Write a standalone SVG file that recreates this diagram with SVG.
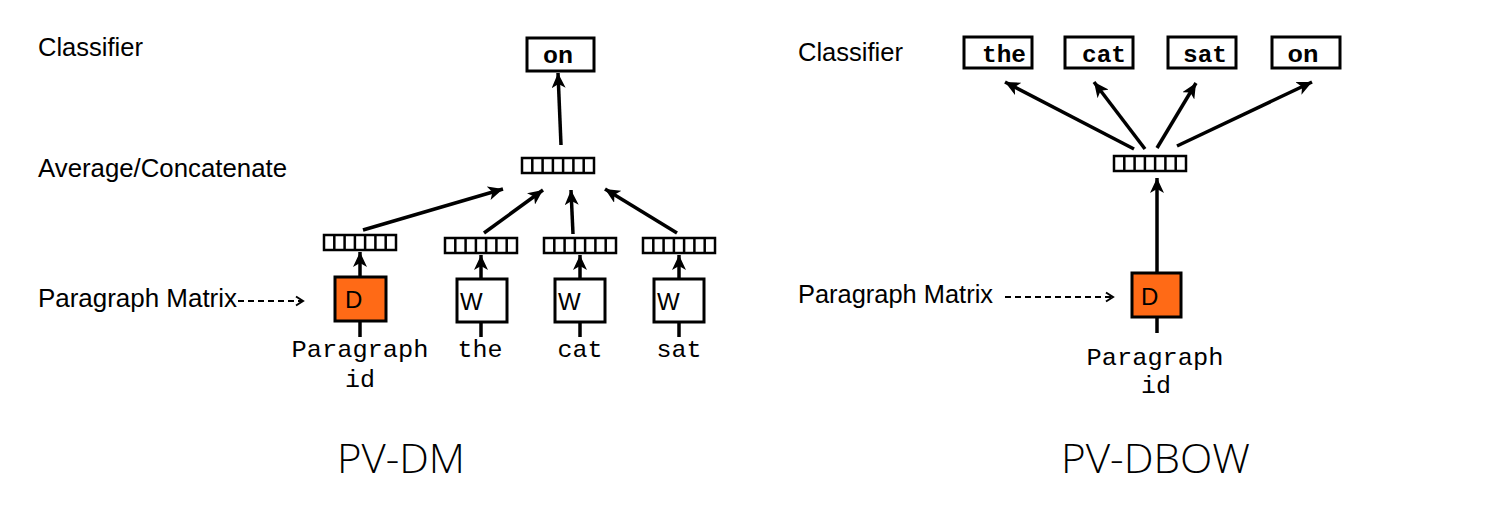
<svg xmlns="http://www.w3.org/2000/svg" width="1500" height="529" viewBox="0 0 1500 529">
<defs>
<marker id="ah" markerUnits="userSpaceOnUse" markerWidth="16" markerHeight="14" viewBox="0 0 16 14" refX="15" refY="7" orient="auto">
<path d="M0,0 L15,7 L0,14 L4,7 z" fill="#000"/>
</marker>
<marker id="dh" markerUnits="userSpaceOnUse" markerWidth="12" markerHeight="12" viewBox="0 0 12 12" refX="10" refY="6" orient="auto">
<path d="M3,1.5 L10,6 L3,10.5" fill="none" stroke="#000" stroke-width="2"/>
</marker>
<g id="vec">
<rect x="0" y="0" width="72" height="15" fill="#fff" stroke="#000" stroke-width="2.5"/>
<path d="M10.3,0V15M20.6,0V15M30.9,0V15M41.1,0V15M51.4,0V15M61.7,0V15" stroke="#000" stroke-width="2.5"/>
</g>
</defs>
<style>
.lbl{font-family:"Liberation Sans",Arial,sans-serif;font-size:25px;fill:#000}
.mono{font-family:"Courier New","Liberation Mono",monospace;font-size:24px;fill:#000}
.bmono{font-family:"Courier New","Liberation Mono",monospace;font-size:23px;font-weight:bold;fill:#000}
.box{fill:#fff;stroke:#000;stroke-width:3}
.dbox{fill:#FF6A16;stroke:#000;stroke-width:3}
.in{font-family:"Liberation Sans",Arial,sans-serif;font-size:24px;fill:#000}
.title{font-family:"Open Sans","Noto Sans",sans-serif;font-weight:300;font-size:41px;fill:#000}
.arr{stroke:#000;stroke-width:3.5;fill:none;marker-end:url(#ah)}
.stub{stroke:#000;stroke-width:3.5;fill:none}
.dash{stroke:#000;stroke-width:2;fill:none;stroke-dasharray:6,4;marker-end:url(#dh)}
</style>
<rect width="1500" height="529" fill="#fff"/>

<!-- Left labels -->
<g id="labels-left">
<text class="lbl" x="38" y="56" textLength="105" lengthAdjust="spacingAndGlyphs">Classifier</text>
<text class="lbl" x="38" y="177" textLength="249" lengthAdjust="spacingAndGlyphs">Average/Concatenate</text>
<text class="lbl" x="38" y="307" textLength="199" lengthAdjust="spacingAndGlyphs">Paragraph Matrix</text>
<text class="title" x="337" y="473" textLength="128" lengthAdjust="spacingAndGlyphs">PV-DM</text>
</g>

<g id="connectors-left">
<line class="dash" x1="238" y1="301" x2="303" y2="301"/>
<line class="arr" x1="561" y1="145" x2="558" y2="73"/>
<line class="arr" x1="363" y1="230" x2="503" y2="189"/>
<line class="arr" x1="484" y1="233" x2="543" y2="190"/>
<line class="arr" x1="573" y1="234" x2="571" y2="190"/>
<line class="arr" x1="677" y1="233" x2="605" y2="189"/>
<line class="arr" x1="360" y1="277" x2="360" y2="252"/>
<line class="arr" x1="481" y1="279" x2="481" y2="255"/>
<line class="arr" x1="580" y1="279" x2="580" y2="255"/>
<line class="arr" x1="679" y1="279" x2="679" y2="255"/>
<line class="stub" x1="360" y1="321" x2="360" y2="337"/>
<line class="stub" x1="481" y1="322" x2="481" y2="337"/>
<line class="stub" x1="580" y1="322" x2="580" y2="337"/>
<line class="stub" x1="679" y1="322" x2="679" y2="337"/>
</g>

<g id="dm-on">
<rect class="box" x="527" y="38" width="67" height="33"/>
<text class="bmono" x="558" y="63" text-anchor="middle" textLength="30" lengthAdjust="spacingAndGlyphs">on</text>
</g>
<g id="dm-avg"><use href="#vec" x="522" y="158"/></g>
<g id="dm-vec-d"><use href="#vec" x="324" y="235"/></g>
<g id="dm-vec-the"><use href="#vec" x="445" y="238"/></g>
<g id="dm-vec-cat"><use href="#vec" x="544" y="238"/></g>
<g id="dm-vec-sat"><use href="#vec" x="643" y="238"/></g>
<g id="dm-D">
<rect class="dbox" x="335" y="277" width="51" height="44"/>
<text class="in" x="345" y="308">D</text>
</g>
<g id="dm-W1">
<rect class="box" x="457" y="279" width="50" height="43"/>
<text class="in" x="460" y="310">W</text>
</g>
<g id="dm-W2">
<rect class="box" x="555" y="279" width="50" height="43"/>
<text class="in" x="558" y="310">W</text>
</g>
<g id="dm-W3">
<rect class="box" x="654" y="279" width="50" height="43"/>
<text class="in" x="657" y="310">W</text>
</g>
<g id="dm-words">
<text class="mono" x="360" y="357" text-anchor="middle" textLength="137" lengthAdjust="spacingAndGlyphs">Paragraph</text>
<text class="mono" x="360" y="387" text-anchor="middle" textLength="30" lengthAdjust="spacingAndGlyphs">id</text>
<text class="mono" x="480" y="357" text-anchor="middle" textLength="45" lengthAdjust="spacingAndGlyphs">the</text>
<text class="mono" x="580" y="357" text-anchor="middle" textLength="45" lengthAdjust="spacingAndGlyphs">cat</text>
<text class="mono" x="679" y="357" text-anchor="middle" textLength="45" lengthAdjust="spacingAndGlyphs">sat</text>
</g>

<!-- Right -->
<g id="labels-right">
<text class="lbl" x="798" y="61" textLength="105" lengthAdjust="spacingAndGlyphs">Classifier</text>
<text class="lbl" x="798" y="303" textLength="195" lengthAdjust="spacingAndGlyphs">Paragraph Matrix</text>
<text class="title" x="1061" y="473" textLength="189" lengthAdjust="spacingAndGlyphs">PV-DBOW</text>
</g>

<g id="connectors-right">
<line class="dash" x1="1005" y1="297" x2="1113" y2="297"/>
<line class="arr" x1="1134" y1="149" x2="1005" y2="82"/>
<line class="arr" x1="1145" y1="149" x2="1094" y2="82"/>
<line class="arr" x1="1157" y1="148" x2="1196" y2="83"/>
<line class="arr" x1="1177" y1="146" x2="1312" y2="82"/>
<line class="arr" x1="1157" y1="273" x2="1157" y2="178"/>
<line class="stub" x1="1157" y1="317" x2="1157" y2="333"/>
</g>

<g id="dbow-the">
<rect class="box" x="964" y="37" width="68" height="31"/>
<text class="bmono" x="1004" y="62" text-anchor="middle" textLength="44" lengthAdjust="spacingAndGlyphs">the</text>
</g>
<g id="dbow-cat">
<rect class="box" x="1065" y="37" width="68" height="31"/>
<text class="bmono" x="1104" y="62" text-anchor="middle" textLength="44" lengthAdjust="spacingAndGlyphs">cat</text>
</g>
<g id="dbow-sat">
<rect class="box" x="1168" y="37" width="68" height="31"/>
<text class="bmono" x="1205" y="62" text-anchor="middle" textLength="44" lengthAdjust="spacingAndGlyphs">sat</text>
</g>
<g id="dbow-on">
<rect class="box" x="1272" y="37" width="68" height="31"/>
<text class="bmono" x="1303" y="62" text-anchor="middle" textLength="31" lengthAdjust="spacingAndGlyphs">on</text>
</g>
<g id="dbow-vec"><use href="#vec" x="1114" y="156"/></g>
<g id="dbow-D">
<rect class="dbox" x="1132" y="273" width="49" height="44"/>
<text class="in" x="1141" y="305">D</text>
</g>
<g id="dbow-words">
<text class="mono" x="1155" y="365" text-anchor="middle" textLength="137" lengthAdjust="spacingAndGlyphs">Paragraph</text>
<text class="mono" x="1156" y="393" text-anchor="middle" textLength="30" lengthAdjust="spacingAndGlyphs">id</text>
</g>
</svg>
